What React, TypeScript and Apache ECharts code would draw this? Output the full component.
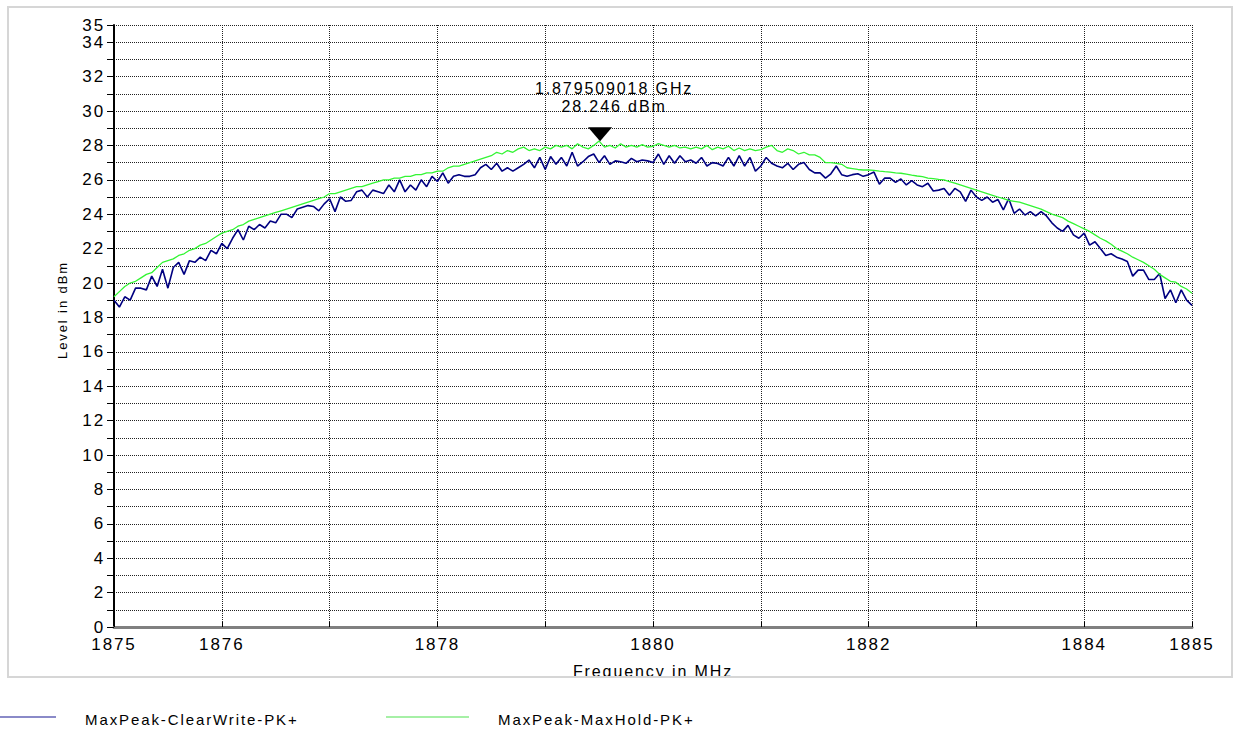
import React, { useEffect, useRef } from "react";
import * as echarts from "echarts";

const FREQ_START = 1875;
const FREQ_STEP = 0.05;

const CLEARWRITE = [
  19.0, 18.6, 19.2, 19.0, 19.7, 19.7, 19.6, 20.4, 19.8, 20.8, 19.7, 20.9, 21.2, 20.5, 21.3, 21.2, 21.5, 21.3, 21.9, 21.7,
  22.3, 22.0, 22.6, 23.1, 22.5, 23.3, 23.1, 23.4, 23.2, 23.6, 23.5, 24.0, 24.0, 23.8, 24.3, 24.4, 24.5, 24.45, 24.2, 24.6,
  24.9, 24.15, 25.0, 24.75, 24.8, 25.3, 25.4, 25.0, 25.4, 25.3, 25.2, 25.7, 25.3, 26.0, 25.3, 25.7, 25.4, 26.0, 25.6, 26.2,
  25.9, 26.4, 25.8, 26.2, 26.3, 26.2, 26.2, 26.3, 26.7, 26.9, 26.6, 26.96, 26.5, 26.7, 26.5, 26.7, 26.9, 27.15, 26.7, 27.3,
  26.6, 27.35, 26.9, 27.3, 26.8, 27.6, 26.8, 27.05, 27.35, 27.5, 27.0, 27.4, 26.9, 27.1, 27.05, 26.96, 27.25, 27.05, 27.15, 27.1,
  27.0, 27.5, 26.9, 27.4, 26.96, 27.4, 27.05, 27.15, 26.96, 27.3, 26.8, 27.0, 26.95, 26.8, 27.3, 26.8, 27.4, 26.8, 27.3, 26.5,
  26.8, 27.3, 26.96, 26.8, 26.7, 26.96, 26.6, 26.9, 27.0, 26.6, 26.4, 26.4, 26.1, 26.35, 26.8, 26.3, 26.2, 26.3, 26.35, 26.2,
  26.3, 26.45, 25.75, 26.1, 26.1, 25.85, 26.05, 25.7, 25.95, 25.7, 25.6, 25.8, 25.35, 25.4, 25.5, 25.1, 25.5, 25.3, 24.75, 25.4,
  25.0, 24.8, 25.0, 24.7, 24.85, 24.25, 24.9, 24.05, 24.3, 23.95, 24.15, 23.9, 24.15, 23.9, 23.5, 23.2, 23.0, 23.35, 22.8, 22.6,
  22.9, 22.2, 22.4, 22.0, 21.6, 21.7, 21.5, 21.4, 21.25, 20.4, 20.75, 20.75, 20.2, 20.2, 20.55, 19.1, 19.6, 18.85, 19.6, 19.0, 18.7,
];

const MAXHOLD = [
  19.2, 19.5, 19.8, 20.0, 20.1, 20.3, 20.5, 20.6, 20.9, 21.2, 21.3, 21.4, 21.6, 21.7, 21.9, 22.0, 22.2, 22.3, 22.5, 22.7,
  22.9, 23.0, 23.1, 23.3, 23.4, 23.6, 23.7, 23.8, 23.9, 24.0, 24.1, 24.2, 24.3, 24.4, 24.5, 24.6, 24.7, 24.8, 24.9, 25.0,
  25.2, 25.2, 25.3, 25.4, 25.5, 25.6, 25.6, 25.7, 25.8, 25.9, 26.0, 26.0, 26.1, 26.1, 26.2, 26.2, 26.3, 26.3, 26.4, 26.4,
  26.5, 26.5, 26.7, 26.8, 26.8, 26.9, 27.0, 27.1, 27.2, 27.3, 27.4, 27.6, 27.5, 27.7, 27.6, 27.8, 27.9, 27.7, 27.8, 27.7,
  27.9, 27.8, 28.0, 27.9, 28.0, 27.8, 28.1, 27.9, 27.8, 28.0, 28.25, 27.9, 28.0, 27.85, 28.1, 27.9, 28.0, 27.9, 28.05, 27.9,
  27.95, 28.1, 28.0, 27.9, 28.0, 27.85, 27.9, 27.8, 27.9, 27.8, 28.0, 27.75, 27.9, 27.8, 27.95, 27.7, 27.85, 27.7, 27.8, 27.7,
  27.75, 27.9, 28.0, 27.7, 27.6, 27.8, 27.7, 27.5, 27.6, 27.45, 27.45, 27.3, 27.0, 27.0, 26.95, 26.9, 26.7, 26.65, 26.6, 26.57,
  26.57, 26.55, 26.5, 26.47, 26.45, 26.4, 26.38, 26.33, 26.27, 26.22, 26.18, 26.1, 26.07, 26.03, 26.0, 25.9, 25.8, 25.7, 25.6, 25.5,
  25.4, 25.3, 25.2, 25.1, 25.0, 24.9, 24.8, 24.75, 24.7, 24.6, 24.5, 24.4, 24.3, 24.15, 24.0, 23.9, 23.8, 23.6, 23.45, 23.3,
  23.15, 23.0, 22.8, 22.6, 22.45, 22.25, 22.0, 21.85, 21.7, 21.5, 21.35, 21.2, 21.0, 20.8, 20.5, 20.3, 20.1, 20.05, 19.8, 19.65, 19.4,
];

const PEAK_FREQ = 1879.509018;
const PEAK_LEVEL = 28.246;
const PEAK_LABEL = ["1.879509018 GHz", "28.246 dBm"];

const SERIES_NAMES = ["MaxPeak-ClearWrite-PK+", "MaxPeak-MaxHold-PK+"];
const X_LABELS = [1875, 1876, 1878, 1880, 1882, 1884, 1885];
const Y_LABELS = [0, 2, 4, 6, 8, 10, 12, 14, 16, 18, 20, 22, 24, 26, 28, 30, 32, 34, 35];

const FONT = "'Liberation Sans', Arial, sans-serif";

const toPairs = (vals: number[]) =>
  vals.map((v, i) => [+(FREQ_START + i * FREQ_STEP).toFixed(3), v]);

export default function App() {
  const ref = useRef<HTMLDivElement>(null);

  useEffect(() => {
    document.body.style.margin = "0";
    if (!ref.current) return;
    const chart = echarts.init(ref.current, null, { renderer: "svg" });
    chart.setOption({
      animation: false,
      backgroundColor: "#ffffff",
      textStyle: { fontFamily: FONT },
      grid: { left: 114, right: 47, top: 25, bottom: 102, containLabel: false },
      xAxis: {
        type: "value",
        min: 1875,
        max: 1885,
        interval: 1,
        name: "Frequency in MHz",
        nameLocation: "middle",
        nameGap: 36,
        nameTextStyle: { fontSize: 16, color: "#000", fontFamily: FONT },
        axisLine: { show: true, onZero: false, lineStyle: { color: "#808080", width: 3 } },
        axisTick: { show: true, inside: true, length: 5, lineStyle: { color: "#000", width: 1 } },
        axisLabel: {
          fontSize: 17,
          color: "#000",
          margin: 9,
          fontFamily: FONT,
          formatter: (v: number) => (X_LABELS.includes(Math.round(v)) ? String(Math.round(v)) : ""),
        },
        splitLine: { show: true, lineStyle: { type: "dotted", color: "#222", width: 1 } },
      },
      yAxis: {
        type: "value",
        min: 0,
        max: 35,
        interval: 1,
        axisLine: { show: true, lineStyle: { color: "#000", width: 2 } },
        axisTick: { show: true, length: 7, lineStyle: { color: "#000", width: 1 } },
        axisLabel: {
          fontSize: 17,
          color: "#000",
          margin: 9,
          fontFamily: FONT,
          formatter: (v: number) => (Y_LABELS.includes(Math.round(v)) ? String(Math.round(v)) : ""),
        },
        splitLine: { show: true, lineStyle: { type: "dotted", color: "#222", width: 1 } },
      },
      series: [
        {
          name: SERIES_NAMES[0],
          type: "line",
          data: toPairs(CLEARWRITE),
          showSymbol: false,
          symbol: "none",
          lineStyle: { color: "#000080", width: 1.6 },
          z: 3,
        },
        {
          name: SERIES_NAMES[1],
          type: "line",
          data: toPairs(MAXHOLD),
          showSymbol: false,
          symbol: "none",
          lineStyle: { color: "#33f533", width: 1.3 },
          z: 4,
          markPoint: {
            symbol: "path://M0,0L24,0L12,14Z",
            symbolSize: [24, 14],
            symbolOffset: [0, -7],
            itemStyle: { color: "#000" },
            label: {
              show: true,
              position: "top",
              distance: 12,
              offset: [14, 0],
              color: "#000",
              fontSize: 16,
              lineHeight: 18,
              fontFamily: FONT,
              formatter: () => PEAK_LABEL.join("\n"),
            },
            data: [{ coord: [PEAK_FREQ, PEAK_LEVEL] }],
          },
        },
      ],
      graphic: [
        {
          type: "rect",
          z: 100,
          shape: { x: 0, y: 678, width: 1239, height: 22 },
          style: { fill: "#ffffff" },
        },
        {
          type: "rect",
          z: 101,
          shape: { x: 8, y: 7, width: 1224, height: 670 },
          style: { fill: "none", stroke: "#d6d6d6", lineWidth: 2 },
        },
        {
          type: "text",
          z: 101,
          x: 62,
          y: 310,
          rotation: Math.PI / 2,
          style: {
            text: "Level in dBm",
            fontSize: 13,
            fontFamily: FONT,
            fill: "#000",
            align: "center",
            verticalAlign: "middle",
          },
        },
        {
          type: "line",
          z: 101,
          shape: { x1: 0, y1: 717, x2: 56, y2: 717 },
          style: { stroke: "#8a8ac8", lineWidth: 2 },
        },
        {
          type: "text",
          z: 101,
          x: 85,
          y: 719,
          style: {
            text: SERIES_NAMES[0],
            fontSize: 15,
            fontFamily: FONT,
            fill: "#000",
            align: "left",
            verticalAlign: "middle",
          },
        },
        {
          type: "line",
          z: 101,
          shape: { x1: 386, y1: 717, x2: 469, y2: 717 },
          style: { stroke: "#a6f0a6", lineWidth: 2 },
        },
        {
          type: "text",
          z: 101,
          x: 498,
          y: 719,
          style: {
            text: SERIES_NAMES[1],
            fontSize: 15,
            fontFamily: FONT,
            fill: "#000",
            align: "left",
            verticalAlign: "middle",
          },
        },
      ],
    });
    return () => chart.dispose();
  }, []);

  return (
    <div
      ref={ref}
      style={{ position: "fixed", left: 0, top: 0, width: 1239, height: 729, letterSpacing: "1.9px" }}
    />
  );
}
